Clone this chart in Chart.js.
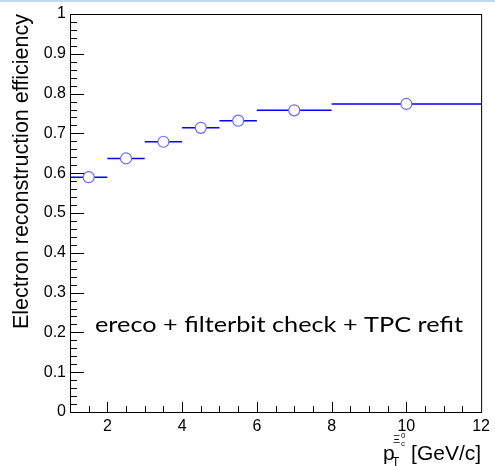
<!DOCTYPE html>
<html>
<head>
<meta charset="utf-8">
<script src="https://cdn.jsdelivr.net/npm/chart.js@4"></script>
<style>
  html, body { margin: 0; padding: 0; background: #fff; }
</style>
</head>
<body>
<canvas id="effChart" width="495" height="466"></canvas>
<script>
// pT bins of the Xi_c0 (GeV/c)
const binLow  = [1, 2, 3, 4, 5, 6, 8];
const binHigh = [2, 3, 4, 5, 6, 8, 12];
// electron reconstruction efficiency in each bin
const efficiency = [0.590, 0.637, 0.679, 0.714, 0.732, 0.758, 0.774];

// axis labels and texts
const xTickLabels = [2, 4, 6, 8, 10, 12];
const yTickLabels = [0, 0.1, 0.2, 0.3, 0.4, 0.5, 0.6, 0.7, 0.8, 0.9, 1];
const yTitle = 'Electron reconstruction efficiency';
const xUnit = '[GeV/c]';
const note = 'ereco + filterbit check + TPC refit';

Chart.defaults.font.family = '"Liberation Sans", Arial, sans-serif';
Chart.defaults.color = '#000';

// one short line per bin (the horizontal error bars)
const binLines = binLow.map((lo, i) => ({
  data: [{ x: lo, y: efficiency[i] }, { x: binHigh[i], y: efficiency[i] }],
  showLine: true,
  borderColor: '#0000ff',
  borderWidth: 1.5,
  pointRadius: 0,
  order: 2
}));

// open circles at the bin centres
const markers = {
  data: binLow.map((lo, i) => ({ x: (lo + binHigh[i]) / 2, y: efficiency[i] })),
  pointStyle: 'circle',
  pointRadius: 5.5,
  pointBackgroundColor: '#fff',
  pointBorderColor: '#6a6aff',
  pointBorderWidth: 1.2,
  showLine: false,
  order: 1
};

// frame, inner ticks and titles drawn like ROOT does
const rootFrame = {
  id: 'rootFrame',
  beforeDraw(chart) {
    const ctx = chart.ctx;
    ctx.save();
    ctx.fillStyle = '#fff';
    ctx.fillRect(0, 0, chart.width, chart.height);
    ctx.fillStyle = '#c3d9ef';
    ctx.fillRect(0, 0, chart.width, 2);
    ctx.restore();
  },
  afterDraw(chart) {
    const { ctx, chartArea: a, scales: { x, y } } = chart;
    ctx.save();
    ctx.strokeStyle = '#000';
    ctx.lineWidth = 1;
    ctx.strokeRect(a.left + 0.5, a.top + 0.5, a.right - a.left, a.bottom - a.top);

    ctx.beginPath();
    for (let i = 0; i <= 50; i++) {
      const py = Math.round(y.getPixelForValue(i / 50)) + 0.5;
      const len = i % 5 === 0 ? 14 : 7;
      ctx.moveTo(a.left, py);
      ctx.lineTo(a.left + len, py);
    }
    for (let i = 3; i <= 23; i++) {
      const v = i / 2;
      const px = Math.round(x.getPixelForValue(v)) + 0.5;
      const len = v % 2 === 0 ? 10 : 6;
      ctx.moveTo(px, a.bottom);
      ctx.lineTo(px, a.bottom - len);
    }
    ctx.stroke();

    ctx.fillStyle = '#000';
    ctx.textBaseline = 'alphabetic';

    // y title
    ctx.save();
    ctx.translate(28, a.top);
    ctx.rotate(-Math.PI / 2);
    ctx.font = '21.5px "Liberation Sans"';
    ctx.textAlign = 'right';
    ctx.fillText(yTitle, 0, 0);
    ctx.restore();

    // x title: p_T^{Xi_c^0} [GeV/c]
    ctx.font = '21px "Liberation Sans"';
    ctx.textAlign = 'right';
    ctx.fillText(xUnit, a.right, 460);
    const start = a.right - ctx.measureText(xUnit).width;
    const x0 = start - 28;
    ctx.textAlign = 'left';
    ctx.fillText('p', x0, 460);
    ctx.font = '12px "Liberation Sans"';
    ctx.fillText('T', x0 + 9, 466);
    ctx.font = '11px "Liberation Sans"';
    ctx.fillText('\u039E', x0 + 10, 443);
    ctx.font = '8px "Liberation Sans"';
    ctx.fillText('c', x0 + 18, 446);
    ctx.fillText('0', x0 + 18, 438);

    // note inside the frame
    ctx.font = '21px Lato';
    const w = ctx.measureText(note).width;
    ctx.translate(95, 332);
    ctx.scale(368 / w, 1);
    ctx.fillText(note, 0, 0);
    ctx.restore();
  }
};

new Chart(document.getElementById('effChart'), {
  type: 'scatter',
  data: { datasets: [markers, ...binLines] },
  options: {
    responsive: false,
    animation: false,
    devicePixelRatio: 1,
    layout: { padding: { left: 0, top: 14, right: 9, bottom: 0 } },
    plugins: { legend: { display: false }, tooltip: { enabled: false } },
    scales: {
      x: {
        type: 'linear',
        min: 1,
        max: 12,
        grid: { display: false, drawTicks: false },
        border: { display: false },
        afterBuildTicks: s => { s.ticks = xTickLabels.map(v => ({ value: v })); },
        afterFit: s => { s.height = 54; },
        ticks: { font: { size: 16 }, padding: 5, maxRotation: 0, autoSkip: false }
      },
      y: {
        type: 'linear',
        min: 0,
        max: 1,
        grid: { display: false, drawTicks: false },
        border: { display: false },
        afterBuildTicks: s => { s.ticks = yTickLabels.map(v => ({ value: v })); },
        afterFit: s => { s.width = 70; },
        ticks: {
          font: { size: 16 },
          padding: 4,
          autoSkip: false,
          callback: v => String(+v.toFixed(1))
        }
      }
    }
  },
  plugins: [rootFrame]
});
</script>
</body>
</html>
